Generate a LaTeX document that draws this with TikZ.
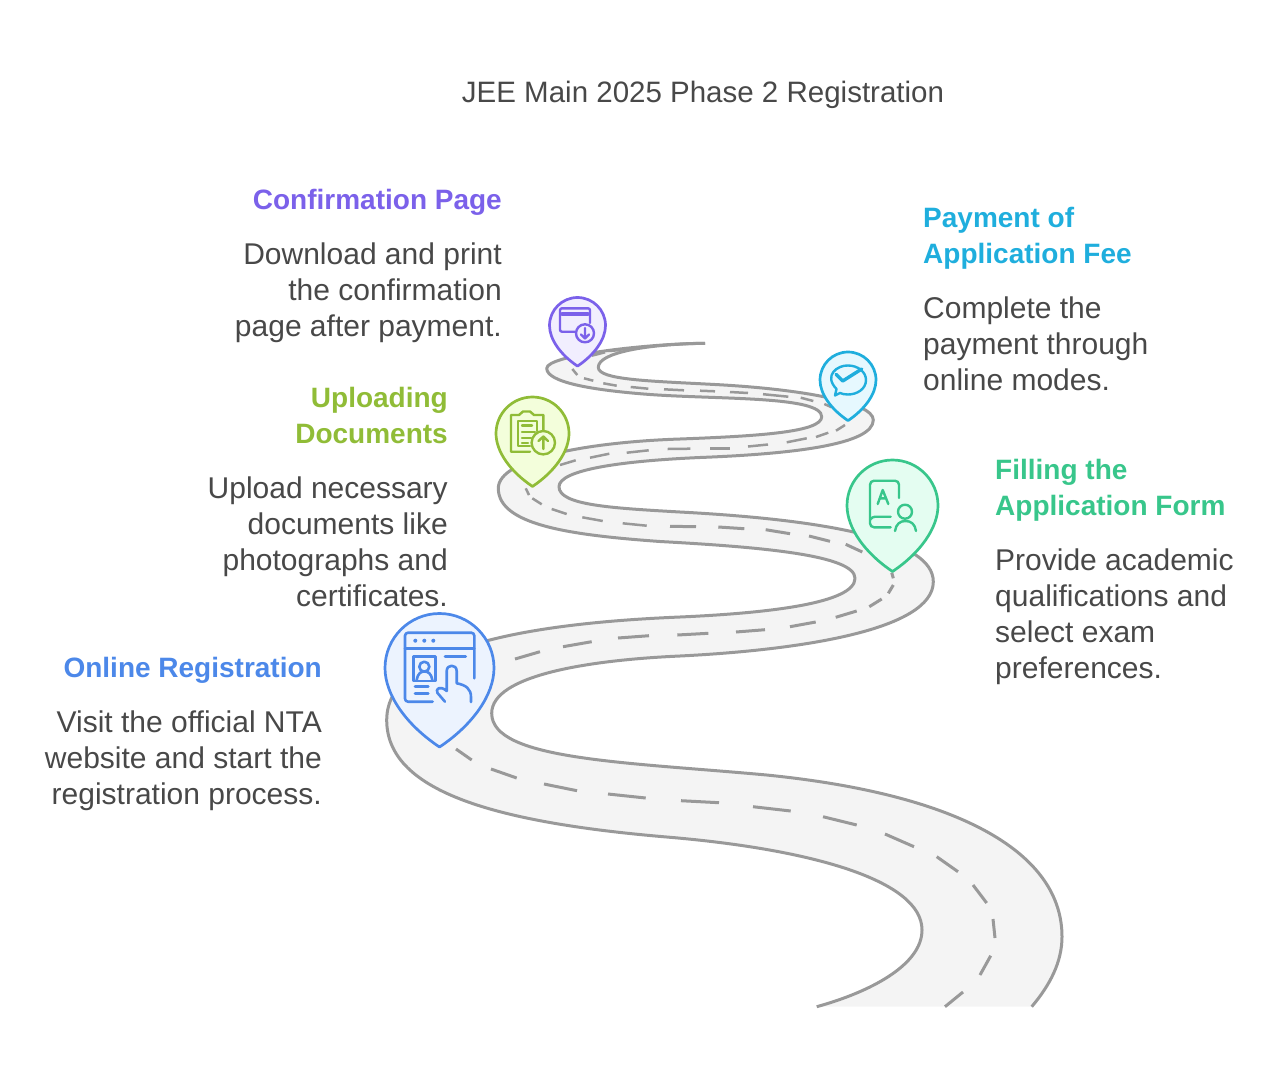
\documentclass[tikz,border=0pt]{standalone}
\usepackage{fontspec}
\setmainfont{Liberation Sans}
\usepackage{tikz}
\usetikzlibrary{positioning}
\definecolor{roadgray}{HTML}{999999}
\definecolor{roadfill}{HTML}{F4F4F4}
\definecolor{textgray}{HTML}{484848}
\definecolor{bluepin}{HTML}{4C88E9}
\definecolor{bluefill}{HTML}{ECF3FE}
\definecolor{greenpin}{HTML}{38C68B}
\definecolor{greenfill}{HTML}{E4FDF1}
\definecolor{limepin}{HTML}{90BC37}
\definecolor{limefill}{HTML}{F3FEDB}
\definecolor{purplepin}{HTML}{7B61EA}
\definecolor{purplefill}{HTML}{F1EEFE}
\definecolor{cyanpin}{HTML}{1FAEDD}
\definecolor{cyanfill}{HTML}{E6F8FE}
\tikzstyle{heading} = [inner sep=0pt, font=\fontsize{28}{36}\selectfont\bfseries, execute at begin node=\strut, execute at end node=\strut]
\tikzstyle{bodytext} = [inner sep=0pt, text=textgray, font=\fontsize{30}{36}\selectfont, execute at begin node=\strut, execute at end node=\strut]
\tikzstyle{roadedge} = [line width=3pt, draw=roadgray, line join=round]
\tikzstyle{roaddash} = [line width=3pt, draw=roadgray]
\tikzstyle{smalldash} = [line width=2.5pt, draw=roadgray]
\tikzstyle{pinshape} = [line width=2.7pt, line join=round, insert path={(-1,0) .. controls (-1,-.552) and (-.552,-1) .. (0,-1) .. controls (.552,-1) and (1,-.552) .. (1,0) .. controls (1,.5) and (.6,1.05) .. (0,1.45) .. controls (-.6,1.05) and (-1,.5) .. (-1,0) -- cycle}]
\tikzstyle{icon} = [line width=2.6pt, line cap=round, line join=round]
\tikzstyle{smallicon} = [line width=2.4pt, line cap=round, line join=round]
\begin{document}
\begin{tikzpicture}[x=1pt, y=-1pt, node distance=22pt]
	\useasboundingbox (0,0) rectangle (1281,1081);

	% road
	\def\edgeA{(705,343.3) .. controls (650,343.5) and (546.7,355) .. (546.7,368.3) .. controls (546.7,382) and (590,390) .. (650,394.5) .. controls (720,399.5) and (821.7,396) .. (821.7,416.7) .. controls (821.7,432) and (760,436) .. (680,439) .. controls (590,442) and (498.3,458) .. (498.3,488.3) .. controls (498.3,525) and (570,535) .. (660,541.5) .. controls (760,547) and (855,555) .. (855,578.3) .. controls (855,603) and (770,613) .. (680,617) .. controls (560,622) and (386.7,640) .. (386.7,720) .. controls (386.7,790) and (490,822) .. (666.7,837) .. controls (810,849) and (922,880) .. (922,930) .. controls (922,965) and (870,992) .. (816.7,1006.7)}
	\def\edgeB{(1031.7,1006.7) .. controls (1050,985) and (1062,962) .. (1062,936.7) .. controls (1062,855) and (965,795) .. (766.7,775) .. controls (625,762) and (491.7,760) .. (491.7,713.3) .. controls (491.7,675) and (590,660) .. (680,656) .. controls (800,650) and (933.3,630) .. (933.3,581.7) .. controls (933.3,540) and (830,520) .. (680,512) .. controls (610,508) and (559,505) .. (559,486.7) .. controls (559,470) and (620,461) .. (700,457.5) .. controls (790,454) and (873.3,445) .. (873.3,420) .. controls (873.3,402) and (800,389) .. (715,384.5) .. controls (650,381) and (598.3,380) .. (598.3,367.3) .. controls (598.3,352) and (650,344) .. (705,343.3)}
	\fill[roadfill] \edgeA -- \edgeB -- cycle;
	\draw[roadedge] \edgeA;
	\draw[roadedge] \edgeB;

	% centre line
	\foreach \xa/\ya/\xb/\yb in {945/1006.7/963/992, 980/975/990.7/955.7, 995/938/993/919, 986.7/903/973/885, 958/871.7/936.7/856.7, 914/846.7/885/834, 856.7/825/823/816.7, 790.7/811/753/806.7, 719/802.7/681/800.7, 645.7/798/608/794, 577/790.7/544/784, 516.7/778/491/769, 471.7/760/456/749, 515/659/540/651.7, 563/646.7/591.7/641.7, 618/638/649/635.7, 677.3/635/708.3/633.3, 736/632/765/629.7, 790/626.7/815.7/622, 835.7/617.3/856.7/611, 869.3/606.7/881.7/599, 888.3/593.3/893.3/585, 893.3/578.3/891.7/572.7, 862.3/552/845.7/544.3, 830/541.3/809/536, 790/533.7/765.7/529.7, 744.3/528.7/718.3/527, 696/526.7/670/526.3}
		\draw[roaddash] (\xa,\ya) -- (\xb,\yb);
	\foreach \xa/\ya/\xb/\yb in {646.7/525.7/622.7/523.3, 602.7/521/582.3/517.3, 566.7/514/551.7/509, 541.7/504.3/532.3/498.3, 529/495/525.7/488.3, 560/465/575.7/460.3, 590/457.7/609.3/453.7, 626.7/452.7/648.7/450.3, 667.7/449/690.3/448.7, 710/448.3/730/448.3, 748/446.5/768/444.5, 786.7/442.3/806.7/438.3, 816/437/828.3/432.7, 836/430.7/845/425, 846.7/420/845.5/417, 824.3/404/831.7/407.3, 800.7/397.7/813.3/401, 763/394.2/788.3/396.7, 730/392/748/393, 700/390.7/715/391.3, 664/389.3/684/390.3, 630.7/387/648.3/388.7, 603.3/383.3/616.7/385.7, 584/378.3/593.3/380.7, 572.3/369/577.3/375, 591.7/355.7/605/352.3, 608.3/351/621.7/350}
		\draw[smalldash] (\xa,\ya) -- (\xb,\yb);

	% pins
	\draw[draw=bluepin, fill=bluefill, shift={(439.5,668)}, scale=54.5, pinshape];
	\draw[draw=greenpin, fill=greenfill, shift={(892.5,505.5)}, scale=45.5, pinshape];
	\draw[draw=limepin, fill=limefill, shift={(532.5,433.5)}, scale=36.5, pinshape];
	\draw[draw=purplepin, fill=purplefill, shift={(577.5,325.5)}, scale=28, pinshape];
	\draw[draw=cyanpin, fill=cyanfill, shift={(848,380)}, scale=28, pinshape];

	% icon online registration
	\draw[icon, bluepin, rounded corners=3pt] (474.3,678.3) -- (474.3,632.7) -- (405,632.7) -- (405,701.7) -- (432.7,701.7);
	\draw[icon, bluepin] (405,648.3) -- (474.3,648.3);
	\foreach \dotx in {415.3,424.3,433.3}
		\fill[bluepin] (\dotx,640.7) circle (2pt);
	\draw[icon, bluepin] (413.3,656.7) rectangle (435.7,681);
	\draw[icon, bluepin] (424.3,666.7) circle (5pt);
	\draw[icon, bluepin] (416.7,680) .. controls (418,673) and (421,671.5) .. (424.3,671.5) .. controls (428,671.5) and (431,673) .. (432.3,680);
	\draw[icon, bluepin] (415,686.7) -- (428.3,686.7) (415,693.3) -- (428.3,693.3) (445,656.7) -- (465.7,656.7);
	\draw[icon, bluepin] (445,701.7) -- (437.5,693) .. controls (435,689) and (440,685) .. (446.7,691) -- (446.7,671) .. controls (446.7,664) and (456.7,664) .. (456.7,671) -- (456.7,683.3) .. controls (466,685) and (471,689) .. (471,697) -- (471,702);

	% icon application form
	\draw[smallicon, greenpin, rounded corners=4pt] (899,498) -- (899,480.7) -- (870,480.7) -- (870,527.3) -- (890.7,527.3);
	\draw[smallicon, greenpin, rounded corners=3pt] (870,520) -- (872,516.7) -- (890.7,516.7);
	\draw[smallicon, greenpin] (877.7,504) -- (882.7,490) -- (888.3,504) (879.5,498.3) -- (886,498.3);
	\draw[smallicon, greenpin] (905,511.7) circle (7pt);
	\draw[smallicon, greenpin] (895,531) .. controls (896,524) and (900,521) .. (905.5,521) .. controls (911,521) and (915,524) .. (916,531);

	% icon documents
	\draw[smallicon, limepin] (530,451.7) -- (511,451.7) -- (511,415) -- (519,415) -- (523,411.5) -- (530,411.5) -- (534,415) -- (543.3,415) -- (543.3,430);
	\draw[smallicon, limepin] (530,446) -- (518,446) -- (518,421) -- (537,421) -- (537,431);
	\draw[smallicon, limepin] (522,425.5) -- (532,425.5) (522,431.7) -- (535,431.7) (522,438) -- (531,438) (522,443) -- (528,443);
	\draw[smallicon, limepin] (543.3,442.7) circle (11.7pt);
	\draw[smallicon, limepin] (543.3,449) -- (543.3,436.5) (538.5,441) -- (543.3,436.5) -- (548,441);

	% icon confirmation
	\draw[smallicon, purplepin, rounded corners=2pt] (590,323) -- (590,308.3) -- (560,308.3) -- (560,331.7) -- (575,331.7);
	\draw[smallicon, purplepin, line width=3.5pt] (562,314) -- (588,314);
	\draw[smallicon, purplepin] (585,333.3) circle (9pt);
	\draw[smallicon, purplepin] (585,328) -- (585,338.5) (581,334.5) -- (585,338.5) -- (589,334.5);

	% icon payment
	\draw[smallicon, cyanpin] (836.5,389) .. controls (823,375) and (838,365) .. (848,365.5) .. controls (858,365.5) and (866,372) .. (866,380) .. controls (866,389) and (857,394.5) .. (848,394.5) .. controls (845,394.5) and (842,394) .. (840,393) -- (835,395.5) -- cycle;
	\draw[smallicon, cyanpin, line width=3.4pt] (836,374.3) -- (842.7,381) -- (861.7,369);

	% labels
	\node (Title) [bodytext, font=\fontsize{29.5}{36}\selectfont, anchor=base] at (703,102) {JEE Main 2025 Phase 2 Registration};
	\node (ConfirmHead) [heading, purplepin, anchor=north east] at (502,183.8) {Confirmation Page};
	\node (ConfirmBody) [bodytext, align=right, below = of ConfirmHead.south east, anchor=north east] {Download and print\\the confirmation\\page after payment.};
	\node (PaymentHead) [heading, cyanpin, align=left, anchor=north west] at (923,206.8) {Payment of\\Application Fee};
	\node (PaymentBody) [bodytext, align=left, below = of PaymentHead.south west, anchor=north west] {Complete the\\payment through\\online modes.};
	\node (UploadHead) [heading, limepin, align=right, anchor=north east] at (448,386.8) {Uploading\\Documents};
	\node (UploadBody) [bodytext, align=right, below = of UploadHead.south east, anchor=north east] {Upload necessary\\documents like\\photographs and\\certificates.};
	\node (FormHead) [heading, greenpin, align=left, anchor=north west] at (995,458.8) {Filling the\\Application Form};
	\node (FormBody) [bodytext, align=left, below = of FormHead.south west, anchor=north west] {Provide academic\\qualifications and\\select exam\\preferences.};
	\node (OnlineHead) [heading, bluepin, anchor=north east] at (322,651.8) {Online Registration};
	\node (OnlineBody) [bodytext, align=right, below = of OnlineHead.south east, anchor=north east] {Visit the official NTA\\website and start the\\registration process.};
\end{tikzpicture}
\end{document}
